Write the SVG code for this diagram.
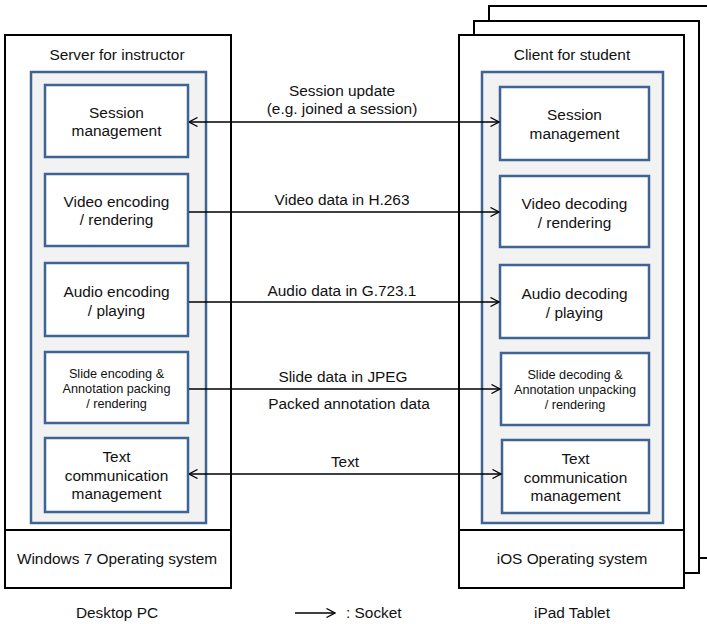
<svg xmlns="http://www.w3.org/2000/svg" width="707" height="624" viewBox="0 0 707 624">
  <style>
    .frame { fill: #ffffff; stroke: #000000; stroke-width: 2; }
    .divider { stroke: #000000; stroke-width: 2; }
    .panel { fill: #f2f2f2; stroke: #3d6493; stroke-width: 2.5; }
    .module { fill: #ffffff; stroke: #3d6493; stroke-width: 2.5; }
    text { font-family: "Liberation Sans", Arial, Helvetica, sans-serif; font-size: 15.4px; fill: #111111; text-anchor: middle; }
    .small { font-size: 12.7px; }
    .link { stroke: #000000; stroke-width: 1.3; fill: none; }
  </style>
  <defs>
    <marker id="head" viewBox="0 0 10 10" refX="9.5" refY="5" markerWidth="10" markerHeight="10" markerUnits="userSpaceOnUse" orient="auto-start-reverse">
      <path d="M1,0.5 L9.5,5 L1,9.5" fill="none" stroke="#000000" stroke-width="1.3"/>
    </marker>
  </defs>

  <rect width="707" height="624" fill="#ffffff"/>

  <!-- Instructor side: desktop PC -->
  <g id="server">
    <rect class="frame" x="5" y="35" width="226" height="553"/>
    <line class="divider" x1="5" y1="530" x2="231" y2="530"/>
    <text x="117" y="60">Server for instructor</text>
    <rect class="panel" x="31" y="72" width="175" height="451"/>
    <text x="117" y="564">Windows 7 Operating system</text>
    <text x="117" y="618">Desktop PC</text>
  </g>
  <g id="srv-session">
    <rect class="module" x="45" y="85" width="143" height="72"/>
    <text x="116.5" y="118">Session</text>
    <text x="116.5" y="136">management</text>
  </g>
  <g id="srv-video">
    <rect class="module" x="45" y="174" width="143" height="72"/>
    <text x="116.5" y="207">Video encoding</text>
    <text x="116.5" y="225">/ rendering</text>
  </g>
  <g id="srv-audio">
    <rect class="module" x="45" y="263" width="143" height="73"/>
    <text x="116.5" y="297">Audio encoding</text>
    <text x="116.5" y="316">/ playing</text>
  </g>
  <g id="srv-slide">
    <rect class="module" x="45" y="352" width="143" height="71"/>
    <text class="small" x="116.5" y="378">Slide encoding &amp;</text>
    <text class="small" x="116.5" y="393">Annotation packing</text>
    <text class="small" x="116.5" y="408">/ rendering</text>
  </g>
  <g id="srv-text">
    <rect class="module" x="45" y="438" width="143" height="74"/>
    <text x="116.5" y="462">Text</text>
    <text x="116.5" y="481">communication</text>
    <text x="116.5" y="499">management</text>
  </g>

  <!-- Student side: stacked iPad clients -->
  <g id="client">
    <rect class="frame" x="489" y="6" width="225" height="552"/>
    <rect class="frame" x="474" y="21" width="225" height="552"/>
    <rect class="frame" x="459" y="35" width="225" height="553"/>
    <line class="divider" x1="459" y1="530" x2="684" y2="530"/>
    <text x="572" y="60">Client for student</text>
    <rect class="panel" x="482" y="72" width="181" height="451"/>
    <text x="572" y="564">iOS Operating system</text>
    <text x="572" y="618">iPad Tablet</text>
  </g>
  <g id="cli-session">
    <rect class="module" x="500" y="87" width="149" height="73"/>
    <text x="574.5" y="120">Session</text>
    <text x="574.5" y="139">management</text>
  </g>
  <g id="cli-video">
    <rect class="module" x="500" y="176" width="149" height="71"/>
    <text x="574.5" y="209">Video decoding</text>
    <text x="574.5" y="228">/ rendering</text>
  </g>
  <g id="cli-audio">
    <rect class="module" x="500" y="265" width="149" height="73"/>
    <text x="574.5" y="299">Audio decoding</text>
    <text x="574.5" y="318">/ playing</text>
  </g>
  <g id="cli-slide">
    <rect class="module" x="501" y="353" width="148" height="72"/>
    <text class="small" x="575" y="379">Slide decoding &amp;</text>
    <text class="small" x="575" y="394">Annotation unpacking</text>
    <text class="small" x="575" y="409">/ rendering</text>
  </g>
  <g id="cli-text">
    <rect class="module" x="502" y="440" width="147" height="73"/>
    <text x="575.5" y="464">Text</text>
    <text x="575.5" y="483">communication</text>
    <text x="575.5" y="501">management</text>
  </g>

  <!-- Socket connections -->
  <g id="connectors">
    <line class="link" x1="189" y1="122" x2="499" y2="122" marker-start="url(#head)" marker-end="url(#head)"/>
    <line class="link" x1="189" y1="212" x2="499" y2="212" marker-end="url(#head)"/>
    <line class="link" x1="189" y1="302" x2="499" y2="302" marker-end="url(#head)"/>
    <line class="link" x1="189" y1="389" x2="500" y2="389" marker-end="url(#head)"/>
    <line class="link" x1="189" y1="474" x2="501" y2="474" marker-start="url(#head)" marker-end="url(#head)"/>
    <text x="342" y="96">Session update</text>
    <text x="342" y="114">(e.g. joined a session)</text>
    <text x="342" y="205">Video data in H.263</text>
    <text x="342" y="296">Audio data in G.723.1</text>
    <text x="343" y="382">Slide data in JPEG</text>
    <text x="349" y="409">Packed annotation data</text>
    <text x="345" y="467">Text</text>
  </g>

  <!-- Legend -->
  <g id="legend">
    <line class="link" x1="295" y1="613" x2="335" y2="613" marker-end="url(#head)"/>
    <text x="346" y="618" style="text-anchor:start">: Socket</text>
  </g>
</svg>
